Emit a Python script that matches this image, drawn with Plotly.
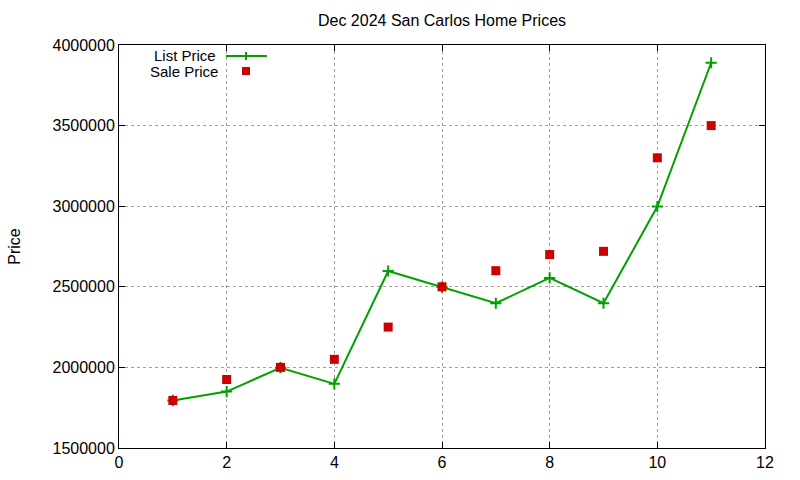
import plotly.graph_objects as go

# Dec 2024 San Carlos listings
homes = [1, 2, 3, 4, 5, 6, 7, 8, 9, 10, 11]
list_price = [1795000, 1850000, 1998000, 1898000, 2598000, 2498000, 2398000,
              2555000, 2398000, 2998000, 3890000]
sale_price = [1795000, 1925000, 2000000, 2050000, 2250000, 2500000, 2600000,
              2700000, 2720000, 3300000, 3500000]
x_ticks = [0, 2, 4, 6, 8, 10, 12]
y_ticks = [1500000, 2000000, 2500000, 3000000, 3500000, 4000000]

GREEN = '#00a000'
RED = '#cc0000'
FONT = 'Liberation Sans'
FS = 16

fig = go.Figure()
fig.add_trace(go.Scatter(x=homes, y=list_price, mode='lines+markers', name='List Price',
                         line=dict(color=GREEN, width=2),
                         marker=dict(symbol='cross-thin', size=8, line=dict(color=GREEN, width=2))))
fig.add_trace(go.Scatter(x=homes, y=sale_price, mode='markers', name='Sale Price',
                         marker=dict(symbol='square', size=9, color=RED)))

axis = dict(showline=True, linecolor='black', linewidth=1, mirror='ticks',
            ticks='inside', ticklen=6, tickcolor='black', automargin=False,
            showgrid=True, gridcolor='#a0a0a0', griddash='dot', gridwidth=1,
            zeroline=False, tickfont=dict(family=FONT, size=FS, color='black'))

fig.update_xaxes(range=[0, 12], tickvals=x_ticks, **axis)
fig.update_yaxes(range=[1500000, 4000000], tickvals=y_ticks, tickformat='d',
                 title=dict(text='Price', font=dict(family=FONT, size=FS, color='black'), standoff=27),
                 **axis)

# gnuplot-style legend: right-aligned text, key on the right
fig.add_annotation(text='List Price', xref='paper', yref='paper', x=0.152, y=0.9745,
                   xanchor='right', yanchor='middle', showarrow=False, borderpad=0,
                   font=dict(family=FONT, size=15, color='black'))
fig.add_annotation(text='Sale Price', xref='paper', yref='paper', x=0.155, y=0.934,
                   xanchor='right', yanchor='middle', showarrow=False, borderpad=0,
                   font=dict(family=FONT, size=15, color='black'))
fig.add_shape(type='line', xref='paper', yref='paper', x0=0.1656, x1=0.229, y0=0.9727, y1=0.9727,
              line=dict(color=GREEN, width=2))
fig.add_shape(type='line', xref='paper', yref='paper', xsizemode='pixel', ysizemode='pixel',
              xanchor=0.1966, yanchor=0.9727, x0=0, x1=0, y0=-4, y1=4,
              line=dict(color=GREEN, width=2))
fig.add_shape(type='rect', xref='paper', yref='paper', xsizemode='pixel', ysizemode='pixel',
              xanchor=0.1966, yanchor=0.9355, x0=-4, x1=4, y0=-4, y1=4,
              fillcolor=RED, line=dict(width=0))

fig.update_layout(
    width=800, height=480,
    title=dict(text='Dec 2024 San Carlos Home Prices', x=0.5525, xanchor='center', y=0.958,
               yanchor='middle', font=dict(family=FONT, size=FS, color='black')),
    showlegend=False,
    plot_bgcolor='white', paper_bgcolor='white',
    margin=dict(l=119, r=35, t=45, b=32),
)

fig.write_html('out.html', config={'displayModeBar': False},
               post_script="document.body.style.margin='0';")
